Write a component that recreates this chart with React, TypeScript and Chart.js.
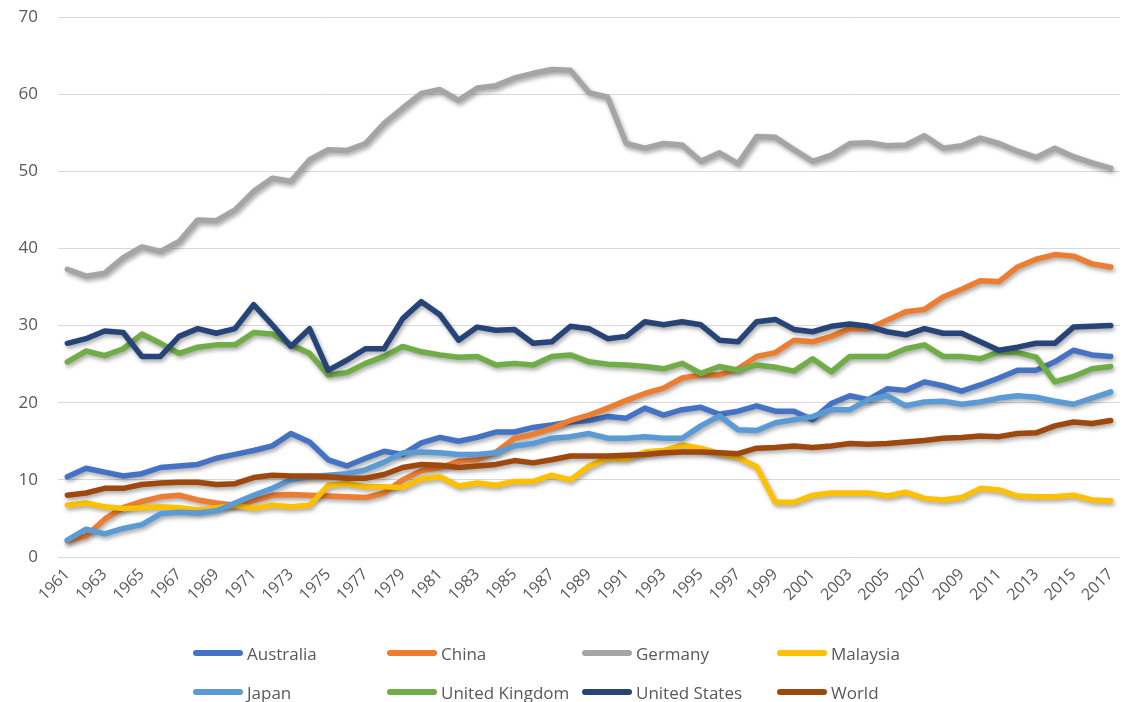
import React, { useEffect, useRef } from "react";
import { Chart, registerables } from "chart.js";

Chart.register(...registerables);

const years: string[] = [];
for (let y = 1961; y <= 2017; y++) years.push(String(y));

const australia = [10.4, 11.5, 11.0, 10.5, 10.8, 11.6, 11.8, 12.0, 12.8, 13.3, 13.8, 14.4, 16.0, 14.9, 12.6, 11.8, 12.8, 13.7, 13.3, 14.8, 15.5, 15.0, 15.5, 16.2, 16.2, 16.8, 17.1, 17.5, 17.7, 18.2, 18.0, 19.3, 18.4, 19.1, 19.4, 18.5, 18.9, 19.6, 18.9, 18.9, 17.8, 19.9, 20.9, 20.4, 21.8, 21.6, 22.7, 22.2, 21.5, 22.3, 23.2, 24.2, 24.2, 25.3, 26.8, 26.2, 26.0];
const china = [2.1, 2.7, 4.9, 6.4, 7.2, 7.8, 8.0, 7.4, 7.0, 6.7, 7.3, 8.0, 8.1, 8.0, 7.9, 7.8, 7.7, 8.3, 10.0, 11.2, 11.6, 12.4, 12.6, 13.6, 15.4, 15.9, 16.7, 17.7, 18.4, 19.3, 20.3, 21.2, 21.9, 23.2, 23.6, 23.6, 24.4, 26.0, 26.5, 28.1, 27.9, 28.6, 29.6, 29.6, 30.7, 31.8, 32.1, 33.7, 34.7, 35.8, 35.7, 37.6, 38.6, 39.2, 39.0, 38.0, 37.6];
const germany = [37.3, 36.4, 36.8, 38.8, 40.2, 39.6, 40.9, 43.7, 43.6, 45.0, 47.4, 49.1, 48.7, 51.5, 52.8, 52.7, 53.6, 56.2, 58.2, 60.1, 60.6, 59.2, 60.8, 61.1, 62.1, 62.7, 63.2, 63.1, 60.2, 59.6, 53.6, 53.0, 53.6, 53.4, 51.3, 52.4, 51.0, 54.5, 54.4, 52.8, 51.3, 52.1, 53.6, 53.7, 53.3, 53.4, 54.6, 53.0, 53.3, 54.3, 53.6, 52.6, 51.8, 53.0, 51.9, 51.1, 50.4];
const malaysia = [6.7, 7.0, 6.5, 6.3, 6.4, 6.5, 6.4, 6.1, 6.4, 6.7, 6.3, 6.7, 6.5, 6.7, 9.3, 9.5, 9.1, 9.1, 9.0, 10.1, 10.4, 9.2, 9.6, 9.3, 9.8, 9.8, 10.6, 10.0, 11.8, 12.8, 12.7, 13.6, 13.8, 14.5, 14.1, 13.4, 12.9, 11.7, 7.1, 7.1, 8.0, 8.3, 8.3, 8.3, 7.9, 8.4, 7.6, 7.4, 7.7, 8.9, 8.7, 7.9, 7.8, 7.8, 8.0, 7.4, 7.3];
const japan = [2.2, 3.6, 3.0, 3.7, 4.2, 5.6, 5.8, 5.7, 6.0, 7.0, 8.0, 8.9, 10.0, 10.4, 10.6, 10.8, 11.3, 12.3, 13.5, 13.6, 13.5, 13.3, 13.3, 13.5, 14.4, 14.7, 15.4, 15.6, 16.0, 15.4, 15.4, 15.6, 15.4, 15.4, 17.0, 18.3, 16.5, 16.4, 17.4, 17.8, 18.2, 19.1, 19.1, 20.4, 20.9, 19.6, 20.1, 20.2, 19.8, 20.1, 20.6, 20.9, 20.7, 20.2, 19.8, 20.6, 21.4];
const unitedKingdom = [25.3, 26.7, 26.1, 27.0, 28.9, 27.7, 26.4, 27.2, 27.5, 27.5, 29.1, 28.9, 27.5, 26.4, 23.6, 23.9, 25.1, 26.0, 27.3, 26.6, 26.2, 25.9, 26.0, 24.9, 25.1, 24.9, 26.0, 26.2, 25.3, 25.0, 24.9, 24.7, 24.4, 25.1, 23.8, 24.7, 24.2, 24.9, 24.6, 24.1, 25.7, 24.0, 26.0, 26.0, 26.0, 27.0, 27.5, 26.0, 26.0, 25.7, 26.6, 26.5, 25.9, 22.7, 23.4, 24.4, 24.7];
const unitedStates = [27.7, 28.3, 29.3, 29.1, 26.0, 26.0, 28.6, 29.6, 29.0, 29.6, 32.7, 30.1, 27.3, 29.6, 24.2, 25.5, 27.0, 27.0, 30.9, 33.1, 31.4, 28.1, 29.8, 29.4, 29.5, 27.7, 27.9, 29.9, 29.6, 28.3, 28.6, 30.5, 30.1, 30.5, 30.1, 28.1, 27.9, 30.5, 30.8, 29.5, 29.2, 29.9, 30.2, 29.9, 29.2, 28.8, 29.6, 29.0, 29.0, 27.9, 26.8, 27.2, 27.7, 27.7, 29.8, 29.9, 30.0];
const world = [8.0, 8.3, 8.9, 8.9, 9.4, 9.6, 9.7, 9.7, 9.4, 9.5, 10.3, 10.6, 10.5, 10.5, 10.4, 10.2, 10.2, 10.7, 11.6, 12.0, 11.9, 11.6, 11.8, 12.0, 12.5, 12.2, 12.6, 13.1, 13.1, 13.1, 13.2, 13.3, 13.5, 13.6, 13.6, 13.5, 13.4, 14.1, 14.2, 14.4, 14.2, 14.4, 14.7, 14.6, 14.7, 14.9, 15.1, 15.4, 15.5, 15.7, 15.6, 16.0, 16.1, 17.0, 17.5, 17.3, 17.7];

const seriesNames = ["Australia", "China", "Germany", "Malaysia", "Japan", "United Kingdom", "United States", "World"];
const seriesValues = [australia, china, germany, malaysia, japan, unitedKingdom, unitedStates, world];
const seriesColors = ["#4472C4", "#ED7D31", "#A5A5A5", "#FFC000", "#5B9BD5", "#70AD47", "#264478", "#9E480E"];

const yTicks = [0, 10, 20, 30, 40, 50, 60, 70];

const FONT = "'Open Sans', 'Noto Sans', sans-serif";

const shadowPlugin = {
  id: "lineShadow",
  beforeDatasetsDraw(chart: any) {
    const c = chart.ctx;
    c.save();
    c.shadowColor = "rgba(0,0,0,0.35)";
    c.shadowBlur = 4;
    c.shadowOffsetX = 1.5;
    c.shadowOffsetY = 2.5;
  },
  afterDatasetsDraw(chart: any) {
    chart.ctx.restore();
  },
};

export default function App() {
  const ref = useRef<HTMLCanvasElement | null>(null);

  useEffect(() => {
    if (!ref.current) return;
    const chart = new Chart(ref.current, {
      type: "line",
      data: {
        labels: years,
        datasets: seriesNames.map((name, i) => ({
          label: name,
          data: seriesValues[i],
          borderColor: seriesColors[i],
          backgroundColor: seriesColors[i],
          borderWidth: 5.5,
          pointRadius: 0,
          pointHoverRadius: 0,
          tension: 0,
          fill: false,
          borderJoinStyle: "round" as const,
          borderCapStyle: "round" as const,
          order: seriesNames.length - i,
        })),
      },
      options: {
        responsive: false,
        animation: false,
        events: [],
        layout: { padding: { top: 17, right: 8, left: 0, bottom: 0 } },
        plugins: {
          legend: { display: false },
          tooltip: { enabled: false },
          title: { display: false },
        },
        scales: {
          x: {
            type: "category",
            offset: true,
            grid: { display: false },
            border: { display: false },
            afterFit: (s: any) => {
              s.height = 145;
              s.paddingTop = 0;
              s.paddingBottom = 0;
            },
            ticks: {
              autoSkip: false,
              minRotation: 45,
              maxRotation: 45,
              padding: 0,
              color: "#595959",
              font: { family: FONT, size: 16 },
              callback: (_v: any, idx: number) => (idx % 2 === 0 ? years[idx] : ""),
            },
          },
          y: {
            min: yTicks[0],
            max: yTicks[yTicks.length - 1],
            afterFit: (s: any) => {
              s.width = 58;
              s.paddingTop = 0;
              s.paddingBottom = 0;
            },
            afterBuildTicks: (s: any) => {
              s.ticks = yTicks.map((v) => ({ value: v }));
            },
            grid: { color: "#D9D9D9", lineWidth: 1, drawTicks: false },
            border: { display: false },
            ticks: {
              padding: 20,
              color: "#595959",
              font: { family: FONT, size: 17 },
            },
          },
        },
      },
      plugins: [shadowPlugin],
    });
    return () => chart.destroy();
  }, []);

  const colX = [193, 387, 582, 777];
  const rowY = [653, 692];

  return (
    <div style={{ position: "absolute", left: 0, top: 0, width: 1128, height: 702, background: "#fff", overflow: "hidden" }}>
      <canvas ref={ref} width={1128} height={702} style={{ display: "block" }} />
      {seriesNames.map((name, i) => {
        const col = i % 4;
        const row = Math.floor(i / 4);
        return (
          <div
            key={name}
            style={{
              position: "absolute",
              left: colX[col],
              top: rowY[row] - 12,
              height: 24,
              display: "flex",
              alignItems: "center",
              fontFamily: FONT,
              fontSize: 17,
              color: "#595959",
              whiteSpace: "nowrap",
            }}
          >
            <span
              style={{
                display: "inline-block",
                width: 50,
                height: 6,
                borderRadius: 3,
                background: seriesColors[i],
                marginRight: 4,
              }}
            />
            <span>{name}</span>
          </div>
        );
      })}
    </div>
  );
}
